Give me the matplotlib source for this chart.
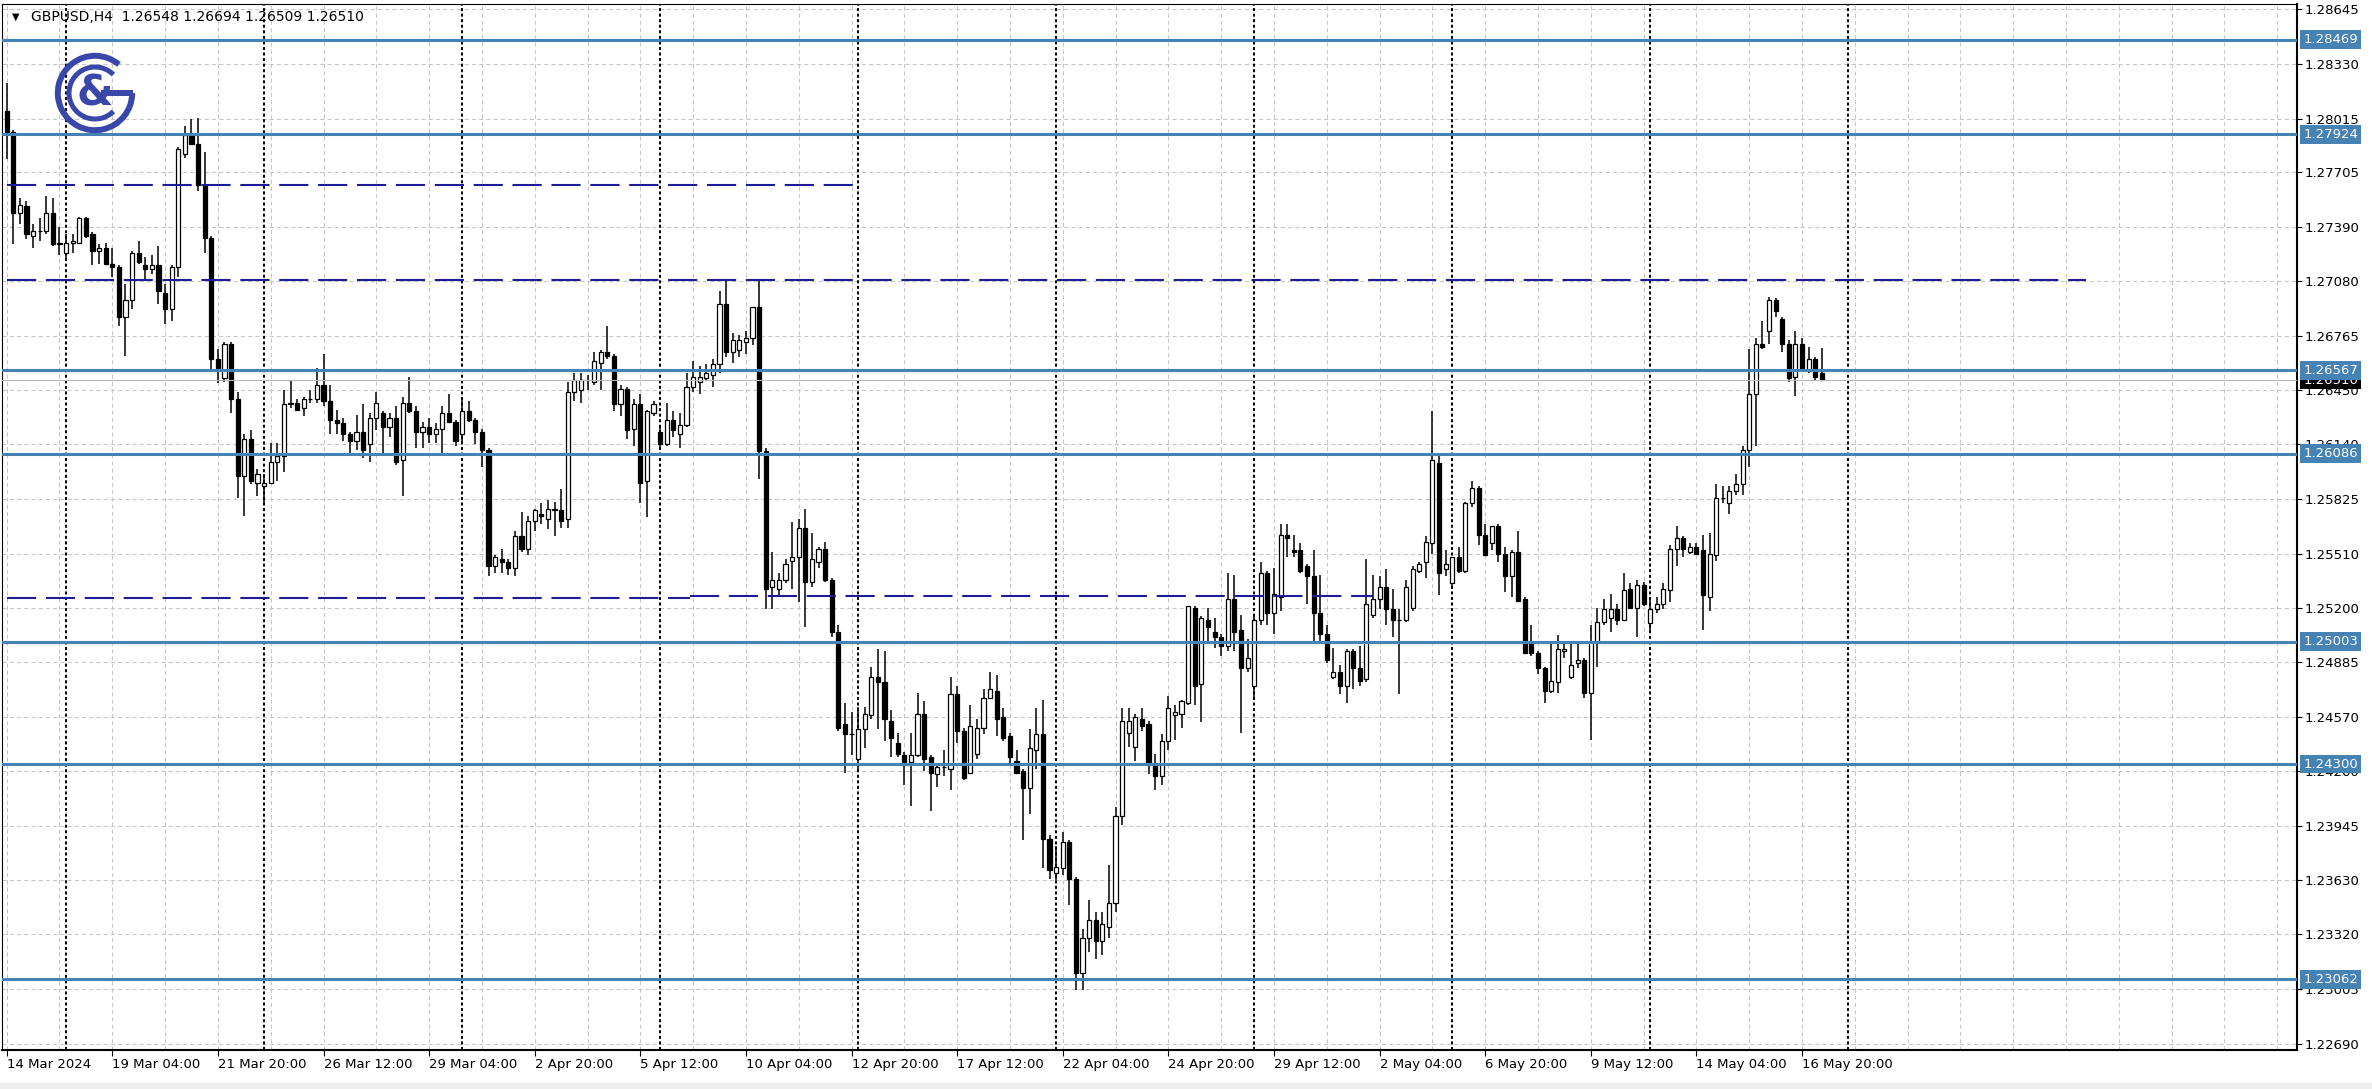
import numpy as np
import matplotlib.pyplot as plt
from matplotlib.patches import Arc, Rectangle

plt.rcParams['lines.scale_dashes'] = False
plt.rcParams['font.family'] = ['DejaVu Sans']

# GBPUSD H4 candles (bar 0 = 14 Mar 12:00)
opens = [
    1.2806, 1.2794, 1.2747, 1.2751, 1.2734, 1.2737, 1.2737, 1.2747, 1.2729, 1.2724,
    1.2730, 1.2730, 1.2744, 1.2735, 1.2725, 1.2727, 1.2718, 1.2716, 1.2687, 1.2697,
    1.2724, 1.2717, 1.2715, 1.2717, 1.2701, 1.2692, 1.2716, 1.2781, 1.2792, 1.2787,
    1.2763, 1.2733, 1.2663, 1.2652, 1.2672, 1.2640, 1.2596, 1.2617, 1.2592, 1.2590,
    1.2592, 1.2604, 1.2607, 1.2637, 1.2638, 1.2635, 1.2640, 1.2640, 1.2648, 1.2639,
    1.2628, 1.2626, 1.2620, 1.2616, 1.2621, 1.2614, 1.2629, 1.2632, 1.2624, 1.2629,
    1.2605, 1.2638, 1.2633, 1.2621, 1.2624, 1.2620, 1.2623, 1.2632, 1.2627, 1.2620,
    1.2633, 1.2628, 1.2621, 1.2611, 1.2544, 1.2548, 1.2546, 1.2543, 1.2561, 1.2554,
    1.2570, 1.2574, 1.2571, 1.2577, 1.2576, 1.2571, 1.2644, 1.2645, 1.2651, 1.2650,
    1.2661, 1.2667, 1.2665, 1.2637, 1.2646, 1.2623, 1.2637, 1.2593, 1.2632, 1.2621,
    1.2614, 1.2628, 1.2620, 1.2625, 1.2647, 1.2650, 1.2652, 1.2654, 1.2660, 1.2695,
    1.2667, 1.2668, 1.2673, 1.2675, 1.2693, 1.2610, 1.2532, 1.2531, 1.2536, 1.2547,
    1.2549, 1.2566, 1.2535, 1.2546, 1.2554, 1.2536, 1.2506, 1.2453, 1.2447, 1.2433,
    1.2450, 1.2458, 1.2480, 1.2477, 1.2455, 1.2442, 1.2435, 1.2431, 1.2435, 1.2459,
    1.2434, 1.2424, 1.2428, 1.2427, 1.2470, 1.2449, 1.2425, 1.2436, 1.2451, 1.2468,
    1.2472, 1.2457, 1.2446, 1.2432, 1.2426, 1.2416, 1.2438, 1.2447, 1.2387, 1.2367,
    1.2370, 1.2385, 1.2364, 1.2310, 1.2330, 1.2340, 1.2328, 1.2336, 1.2350, 1.2400,
    1.2448, 1.2440, 1.2456, 1.2453, 1.2430, 1.2423, 1.2443, 1.2458, 1.2459, 1.2465,
    1.2520, 1.2476, 1.2513, 1.2506, 1.2503, 1.2498, 1.2525, 1.2507, 1.2485, 1.2475,
    1.2513, 1.2540, 1.2517, 1.2526, 1.2562, 1.2553, 1.2553, 1.2544, 1.2538, 1.2517,
    1.2505, 1.2480, 1.2483, 1.2475, 1.2495, 1.2485, 1.2479, 1.2516, 1.2525, 1.2532,
    1.2519, 1.2513, 1.2513, 1.2520, 1.2541, 1.2546, 1.2557, 1.2603, 1.2542, 1.2534,
    1.2549, 1.2541, 1.2580, 1.2589, 1.2562, 1.2557, 1.2567, 1.2551, 1.2538, 1.2552,
    1.2525, 1.2499, 1.2494, 1.2485, 1.2472, 1.2477, 1.2495, 1.2480, 1.2488, 1.2490,
    1.2471, 1.2500, 1.2512, 1.2514, 1.2519, 1.2513, 1.2531, 1.2520, 1.2533, 1.2511,
    1.2519, 1.2522, 1.2530, 1.2554, 1.2560, 1.2552, 1.2555, 1.2553, 1.2526, 1.2550,
    1.2583, 1.2580, 1.2587, 1.2591, 1.2611, 1.2643, 1.2672, 1.2679, 1.2697, 1.2686,
    1.2672, 1.2653, 1.2672, 1.2656, 1.2663, 1.26548]

highs = [
    1.2822, 1.2795, 1.2756, 1.2754, 1.2741, 1.2744, 1.2757, 1.2756, 1.2739, 1.2735,
    1.2735, 1.2745, 1.2745, 1.2736, 1.2729, 1.2730, 1.2727, 1.2717, 1.2706, 1.2725,
    1.2731, 1.2722, 1.2723, 1.2728, 1.2706, 1.2717, 1.2785, 1.2797, 1.2801, 1.2802,
    1.2782, 1.2734, 1.2669, 1.2673, 1.2673, 1.2644, 1.2620, 1.2622, 1.2600, 1.2597,
    1.2615, 1.2615, 1.2645, 1.2651, 1.2640, 1.2641, 1.2645, 1.2658, 1.2666, 1.2648,
    1.2634, 1.2629, 1.2621, 1.2631, 1.2637, 1.2632, 1.2644, 1.2633, 1.2632, 1.2636,
    1.2641, 1.2653, 1.2636, 1.2627, 1.2629, 1.2626, 1.2636, 1.2643, 1.2628, 1.2640,
    1.2639, 1.2629, 1.2623, 1.2612, 1.2550, 1.2554, 1.2548, 1.2564, 1.2575, 1.2573,
    1.2577, 1.2580, 1.2582, 1.2581, 1.2588, 1.2650, 1.2655, 1.2655, 1.2654, 1.2667,
    1.2668, 1.2682, 1.2666, 1.2648, 1.2647, 1.2640, 1.2643, 1.2634, 1.2639, 1.2624,
    1.2638, 1.2633, 1.2632, 1.2655, 1.2662, 1.2659, 1.2660, 1.2663, 1.2702, 1.2709,
    1.2678, 1.2677, 1.2679, 1.2693, 1.2708, 1.2612, 1.2552, 1.2540, 1.2548, 1.2569,
    1.2571, 1.2577, 1.2563, 1.2555, 1.2558, 1.2537, 1.2510, 1.2465, 1.2460, 1.2463,
    1.2463, 1.2486, 1.2496, 1.2495, 1.2461, 1.2448, 1.2437, 1.2448, 1.2471, 1.2466,
    1.2435, 1.2430, 1.2438, 1.2480, 1.2475, 1.2451, 1.2464, 1.2456, 1.2473, 1.2483,
    1.2481, 1.2462, 1.2448, 1.2438, 1.2427, 1.2450, 1.2462, 1.2467, 1.2389, 1.2383,
    1.2391, 1.2386, 1.2365, 1.2335, 1.2352, 1.2345, 1.2345, 1.2372, 1.2405, 1.2462,
    1.2462, 1.2459, 1.2462, 1.2455, 1.2436, 1.2447, 1.2469, 1.2464, 1.2467, 1.2521,
    1.2521, 1.2515, 1.2520, 1.2514, 1.2505, 1.2540, 1.2539, 1.2516, 1.2502, 1.2515,
    1.2546, 1.2541, 1.2543, 1.2568, 1.2568, 1.2562, 1.2557, 1.2545, 1.2553, 1.2539,
    1.2510, 1.2497, 1.2487, 1.2496, 1.2496, 1.2498, 1.2548, 1.2539, 1.2538, 1.2542,
    1.2531, 1.2519, 1.2536, 1.2544, 1.2546, 1.2561, 1.2633, 1.2608, 1.2553, 1.2549,
    1.2555, 1.2581, 1.2593, 1.2590, 1.2568, 1.2567, 1.2568, 1.2555, 1.2553, 1.2564,
    1.2526, 1.2510, 1.2495, 1.2486, 1.2499, 1.2504, 1.2500, 1.2499, 1.2499, 1.2491,
    1.2510, 1.2520, 1.2525, 1.2528, 1.2522, 1.2540, 1.2534, 1.2536, 1.2535, 1.2525,
    1.2526, 1.2534, 1.2556, 1.2567, 1.2561, 1.2557, 1.2557, 1.2562, 1.2563, 1.2591,
    1.2590, 1.2590, 1.2597, 1.2613, 1.2669, 1.2675, 1.2685, 1.2699, 1.2698, 1.2687,
    1.2674, 1.2679, 1.2675, 1.2670, 1.2664, 1.26694]

lows = [
    1.2778, 1.2729, 1.2741, 1.2732, 1.2727, 1.2731, 1.2735, 1.2728, 1.2723, 1.2721,
    1.2724, 1.2729, 1.2733, 1.2717, 1.2718, 1.2717, 1.2710, 1.2682, 1.2665, 1.2692,
    1.2718, 1.2708, 1.2712, 1.2695, 1.2683, 1.2685, 1.2710, 1.2779, 1.2787, 1.2760,
    1.2724, 1.2656, 1.2649, 1.2650, 1.2632, 1.2583, 1.2573, 1.2591, 1.2584, 1.2580,
    1.2591, 1.2593, 1.2598, 1.2635, 1.2633, 1.2630, 1.2638, 1.2638, 1.2636, 1.2620,
    1.2620, 1.2616, 1.2607, 1.2611, 1.2606, 1.2604, 1.2622, 1.2609, 1.2618, 1.2602,
    1.2584, 1.2632, 1.2612, 1.2612, 1.2615, 1.2615, 1.2608, 1.2626, 1.2613, 1.2614,
    1.2627, 1.2614, 1.2601, 1.2538, 1.2540, 1.2540, 1.2539, 1.2538, 1.2552, 1.2550,
    1.2564, 1.2568, 1.2565, 1.2561, 1.2566, 1.2566, 1.2639, 1.2638, 1.2645, 1.2648,
    1.2645, 1.2663, 1.2633, 1.2630, 1.2617, 1.2613, 1.2580, 1.2572, 1.2630, 1.2611,
    1.2613, 1.2618, 1.2612, 1.2624, 1.2644, 1.2643, 1.2651, 1.2647, 1.2655, 1.2664,
    1.2661, 1.2664, 1.2666, 1.2671, 1.2594, 1.2519, 1.2519, 1.2526, 1.2534, 1.2531,
    1.2523, 1.2509, 1.2532, 1.2543, 1.2535, 1.2503, 1.2449, 1.2425, 1.2435, 1.2426,
    1.2439, 1.2456, 1.2450, 1.2443, 1.2434, 1.2434, 1.2418, 1.2406, 1.2434, 1.2426,
    1.2403, 1.2417, 1.2423, 1.2415, 1.2442, 1.2421, 1.2424, 1.2433, 1.2447, 1.2468,
    1.2446, 1.2443, 1.2430, 1.2424, 1.2386, 1.2401, 1.2427, 1.2370, 1.2364, 1.2363,
    1.2366, 1.2349, 1.2300, 1.2300, 1.2322, 1.2318, 1.2320, 1.2330, 1.2345, 1.2395,
    1.2440, 1.2432, 1.2449, 1.2424, 1.2415, 1.2418, 1.2438, 1.2444, 1.2451, 1.2464,
    1.2464, 1.2454, 1.2501, 1.2497, 1.2492, 1.2495, 1.2495, 1.2448, 1.2483, 1.2467,
    1.2510, 1.2510, 1.2505, 1.2518, 1.2549, 1.2549, 1.2540, 1.2522, 1.2499, 1.2499,
    1.2488, 1.2479, 1.2470, 1.2465, 1.2473, 1.2475, 1.2477, 1.2514, 1.2519, 1.2510,
    1.2503, 1.2470, 1.2512, 1.2518, 1.2540, 1.2537, 1.2551, 1.2527, 1.2538, 1.2531,
    1.2540, 1.2540, 1.2578, 1.2556, 1.2550, 1.2553, 1.2546, 1.2529, 1.2526, 1.2523,
    1.2494, 1.2492, 1.2482, 1.2465, 1.2471, 1.2471, 1.2491, 1.2479, 1.2485, 1.2468,
    1.2444, 1.2486, 1.2510, 1.2506, 1.2510, 1.2513, 1.2519, 1.2503, 1.2521, 1.2506,
    1.2517, 1.2519, 1.2523, 1.2544, 1.2549, 1.2551, 1.2550, 1.2507, 1.2518, 1.2547,
    1.2580, 1.2574, 1.2585, 1.2585, 1.2601, 1.2613, 1.2669, 1.2672, 1.2687, 1.2667,
    1.2650, 1.2642, 1.2656, 1.2655, 1.2651, 1.26509]

closes = [
    1.2793, 1.2747, 1.2752, 1.2735, 1.2737, 1.2737, 1.2747, 1.2729, 1.2730, 1.2730,
    1.2731, 1.2744, 1.2734, 1.2725, 1.2727, 1.2718, 1.2716, 1.2687, 1.2697, 1.2724,
    1.2719, 1.2715, 1.2717, 1.2702, 1.2692, 1.2716, 1.2784, 1.2792, 1.2787, 1.2763,
    1.2733, 1.2663, 1.2657, 1.2672, 1.2640, 1.2596, 1.2617, 1.2593, 1.2597, 1.2592,
    1.2604, 1.2607, 1.2637, 1.2638, 1.2634, 1.2640, 1.2640, 1.2648, 1.2639, 1.2628,
    1.2626, 1.2620, 1.2616, 1.2621, 1.2611, 1.2629, 1.2638, 1.2624, 1.2629, 1.2604,
    1.2638, 1.2633, 1.2621, 1.2624, 1.2620, 1.2623, 1.2632, 1.2627, 1.2616, 1.2633,
    1.2628, 1.2621, 1.2611, 1.2544, 1.2549, 1.2546, 1.2543, 1.2561, 1.2554, 1.2570,
    1.2576, 1.2573, 1.2577, 1.2576, 1.2570, 1.2644, 1.2651, 1.2651, 1.2651, 1.2662,
    1.2667, 1.2665, 1.2637, 1.2646, 1.2622, 1.2637, 1.2592, 1.2633, 1.2637, 1.2614,
    1.2628, 1.2622, 1.2625, 1.2647, 1.2653, 1.2653, 1.2655, 1.2660, 1.2695, 1.2667,
    1.2674, 1.2674, 1.2675, 1.2693, 1.2610, 1.2531, 1.2536, 1.2536, 1.2545, 1.2549,
    1.2566, 1.2535, 1.2548, 1.2554, 1.2536, 1.2506, 1.2451, 1.2447, 1.2447, 1.2450,
    1.2459, 1.2480, 1.2477, 1.2456, 1.2445, 1.2436, 1.2431, 1.2435, 1.2459, 1.2433,
    1.2425, 1.2428, 1.2428, 1.2470, 1.2449, 1.2422, 1.2452, 1.2451, 1.2468, 1.2473,
    1.2456, 1.2445, 1.2434, 1.2425, 1.2416, 1.2439, 1.2447, 1.2387, 1.2369, 1.2371,
    1.2385, 1.2364, 1.2310, 1.2330, 1.2340, 1.2328, 1.2338, 1.2350, 1.2400, 1.2455,
    1.2455, 1.2457, 1.2452, 1.2430, 1.2423, 1.2443, 1.2462, 1.2460, 1.2466, 1.2521,
    1.2475, 1.2514, 1.2509, 1.2503, 1.2498, 1.2525, 1.2506, 1.2485, 1.2491, 1.2513,
    1.2540, 1.2517, 1.2528, 1.2562, 1.2560, 1.2552, 1.2541, 1.2538, 1.2517, 1.2505,
    1.2490, 1.2483, 1.2475, 1.2495, 1.2485, 1.2478, 1.2522, 1.2525, 1.2532, 1.2519,
    1.2513, 1.2513, 1.2532, 1.2542, 1.2545, 1.2558, 1.2605, 1.2540, 1.2545, 1.2549,
    1.2541, 1.2580, 1.2589, 1.2562, 1.2550, 1.2567, 1.2551, 1.2538, 1.2552, 1.2524,
    1.2494, 1.2494, 1.2485, 1.2472, 1.2478, 1.2496, 1.2496, 1.2487, 1.2490, 1.2471,
    1.2500, 1.2512, 1.2519, 1.2519, 1.2513, 1.2530, 1.2520, 1.2533, 1.2522, 1.2519,
    1.2522, 1.2531, 1.2554, 1.2560, 1.2554, 1.2555, 1.2551, 1.2527, 1.2551, 1.2583,
    1.2583, 1.2587, 1.2591, 1.2611, 1.2643, 1.2672, 1.2670, 1.2697, 1.2691, 1.2672,
    1.2652, 1.2672, 1.2657, 1.2663, 1.2653, 1.26510]

price_ticks = [1.28645, 1.28330, 1.28015, 1.27705, 1.27390, 1.27080, 1.26765,
               1.26450, 1.26140, 1.25825, 1.25510, 1.25200, 1.24885, 1.24570,
               1.24260, 1.23945, 1.23630, 1.23320, 1.23005, 1.22690]
time_labels = ['14 Mar 2024', '19 Mar 04:00', '21 Mar 20:00', '26 Mar 12:00',
               '29 Mar 04:00', '2 Apr 20:00', '5 Apr 12:00', '10 Apr 04:00',
               '12 Apr 20:00', '17 Apr 12:00', '22 Apr 04:00', '24 Apr 20:00',
               '29 Apr 12:00', '2 May 04:00', '6 May 20:00', '9 May 12:00',
               '14 May 04:00', '16 May 20:00']
levels = [1.28469, 1.27924, 1.26567, 1.26086, 1.25003, 1.24300, 1.23062]
# hand drawn dashed lines: price, first bar, last bar
dash_prices = [1.27630, 1.27087, 1.25258, 1.25266]
dash_from = [0, 0, 0, 103.5]
dash_to = [128.5, 315, 103.5, 207]
week_starts = [9, 39, 69, 99, 129, 159, 189, 219, 249, 279]
last_price = 1.26510
title = 'GBPUSD,H4  1.26548 1.26694 1.26509 1.26510'

W, H = 2372, 1089
fig = plt.figure(figsize=(W / 100, H / 100), dpi=100)
ax = fig.add_axes([2 / W, 39 / H, 2295 / W, 1046 / H])
ax.set_xlim(-0.71, 347.0)
ax.set_ylim(1.22654, 1.28674)

grid_c = '#c6c6c6'
for p in price_ticks:
    ax.axhline(p, color=grid_c, lw=0.75, ls=(0, (3.0, 2.2)), zorder=1)
for xv in np.arange(0, 348, 8):
    ax.axvline(xv, color=grid_c, lw=0.75, ls=(0, (3.0, 2.2)), zorder=1)
for xv in week_starts:
    ax.axvline(xv, color='black', lw=1.4, ls=(0, (2.2, 1.8)), zorder=1.5)

# candles
x = np.arange(len(closes))
o = np.array(opens)
c = np.array(closes)
up = c >= o
body = np.where(np.abs(c - o) < 2e-6, 2e-6, c - o)
ax.vlines(x, lows, highs, color='black', lw=1.1, zorder=3)
ax.bar(x[up], body[up], bottom=o[up], width=0.62, color='white',
       edgecolor='black', lw=0.9, zorder=4)
ax.bar(x[~up], body[~up], bottom=o[~up], width=0.62, color='black',
       edgecolor='black', lw=0.9, zorder=4)

# lines on top of the candles
ax.axhline(last_price, color='#b8b8b8', lw=0.75, zorder=5)
for lv in levels:
    ax.axhline(lv, color='#4682b4', lw=2.2, zorder=6)
ax.hlines(dash_prices, dash_from, dash_to, colors='#1c1c98', lw=1.5,
          linestyles=(0, (21, 7)), zorder=6)

# price scale
ax.yaxis.tick_right()
ax.set_yticks(price_ticks)
ax.set_yticklabels([f'{p:.5f}' for p in price_ticks])
ax.tick_params(axis='y', length=3.6, width=0.8, pad=2.2, labelsize=9.5)
for lv in levels:
    ax.text(1.0027, lv, f'{lv:.5f}', transform=ax.get_yaxis_transform(),
            color='white', fontsize=9.5, va='center', ha='left', zorder=10,
            clip_on=False,
            bbox=dict(boxstyle='square,pad=0.22', fc='#4682b4', ec='none'))
ax.text(1.0027, last_price, f'{last_price:.5f}', transform=ax.get_yaxis_transform(),
        color='white', fontsize=9.5, va='center', ha='left', zorder=9,
        clip_on=False,
        bbox=dict(boxstyle='square,pad=0.22', fc='black', ec='none'))

# time scale
ax.set_xticks(np.arange(len(time_labels)) * 16)
ax.set_xticklabels(time_labels, ha='left')
ax.tick_params(axis='x', length=4.3, width=0.8, pad=1.5, labelsize=9.5)

for side in ['left', 'top']:
    ax.spines[side].set_linewidth(0.8)
for side in ['right', 'bottom']:
    ax.spines[side].set_linewidth(1.5)

# title
fig.text(12 / W, 1 - 17 / H, '\u25bc', fontsize=7, va='center', ha='left')
fig.text(31 / W, 1 - 17 / H, title, fontsize=10, va='center', ha='left')

# logo
lax = fig.add_axes([53 / W, 1 - 135 / H, 84 / W, 84 / H])
lax.set_xlim(-1.05, 1.05)
lax.set_ylim(-1.05, 1.05)
lax.set_aspect('equal')
lax.axis('off')
logo_c = '#3a47aa'
lax.add_patch(Arc((0, 0), 1.86, 1.86, theta1=50, theta2=360, lw=4.3, color=logo_c))
lax.plot([0.15, 0.95], [0, 0], color=logo_c, lw=4.3, solid_capstyle='butt')
lax.add_patch(Arc((0, 0), 1.3, 1.3, theta1=45, theta2=315, lw=3.6, color=logo_c))
lax.text(0.0, -0.02, '&', color=logo_c, fontsize=30, fontweight='bold',
         ha='center', va='center')

fig.patches.append(Rectangle((0, 0), 1, 6 / H, transform=fig.transFigure,
                             color='#eeeeee', zorder=0))

fig.savefig('out.png', dpi=100)
